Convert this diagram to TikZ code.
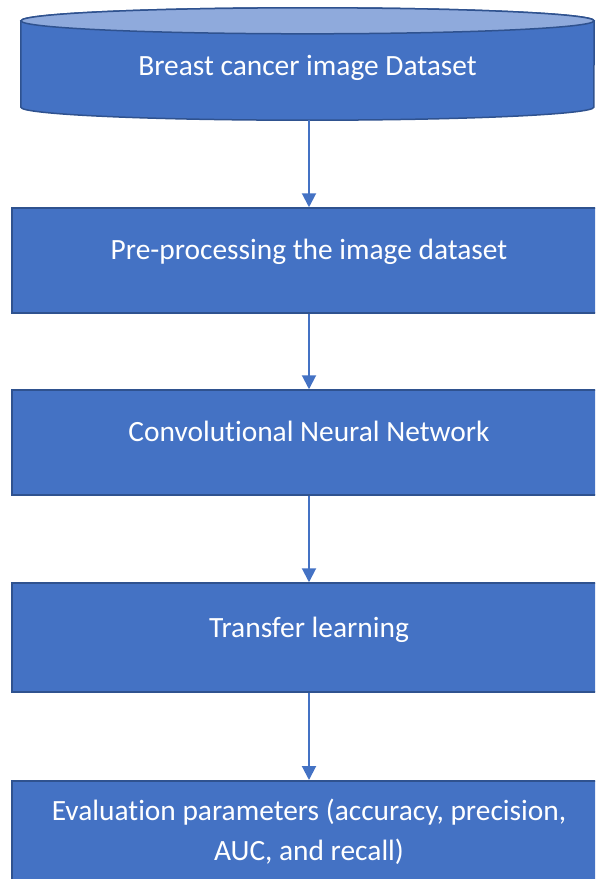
\documentclass[tikz,border=0pt]{standalone}
\usepackage{fontspec}
\setmainfont[Ligatures=NoCommon]{Carlito}
\usetikzlibrary{arrows.meta}
\definecolor{boxblue}{HTML}{4472C4}
\definecolor{edgeblue}{HTML}{2F528F}
\definecolor{topblue}{HTML}{8FAADC}

\begin{document}
\begin{tikzpicture}[x=1pt, y=-1pt, >={Triangle[length=14pt,width=14pt]},
  label text/.style={text=white, font=\fontsize{29.4}{40}\selectfont, align=center},
  stage/.style={rectangle, draw=edgeblue, line width=1.5pt, fill=boxblue, label text,
    minimum width=594pt, inner sep=0pt},
  oneline/.style={text height=22pt, text depth=25pt},
  flow/.style={->, draw=boxblue, line width=2pt}]
  \clip (0,0) rectangle (595,879);
  \useasboundingbox (0,0) rectangle (595,879);
  % database on top
  \node[label text, minimum width=573pt, minimum height=112pt, inner sep=0pt,
    text height=22pt, text depth=0pt] (data) at (307.5,64) {};
  \draw[edgeblue, line width=1.5pt, fill=boxblue]
    ([yshift=-13pt]data.north west) -- ([yshift=13pt]data.south west)
    arc[start angle=180, end angle=360, x radius=286.5pt, y radius=13pt]
    -- ([yshift=-13pt]data.north east)
    arc[start angle=0, end angle=180, x radius=286.5pt, y radius=13pt] -- cycle;
  \draw[edgeblue, line width=1.5pt, fill=topblue]
    ([yshift=-13pt]data.north) ellipse[x radius=286.5pt, y radius=13pt];
  \node[label text, text height=22pt, text depth=0pt] (datatext) at (data) {Breast cancer image Dataset};
  % processing stages
  \node[stage, oneline, minimum height=105pt] (pre) at (309,260.5) {Pre-processing the image dataset};
  \node[stage, oneline, minimum height=105pt] (cnn) at (309,442.5) {Convolutional Neural Network};
  \node[stage, oneline, minimum height=109pt, text depth=22pt] (tl) at (309,637.5) {Transfer learning};
  \node[stage, minimum height=102pt, anchor=north] (eval) at (309,780) {Evaluation parameters (accuracy, precision,\\AUC, and recall)};

  \draw[flow] (data.south -| pre.north) -- (pre.north);
  \draw[flow] (pre) -- (cnn);
  \draw[flow] (cnn) -- (tl);
  \draw[flow] (tl.south) -- (eval.north);
\end{tikzpicture}
\end{document}
